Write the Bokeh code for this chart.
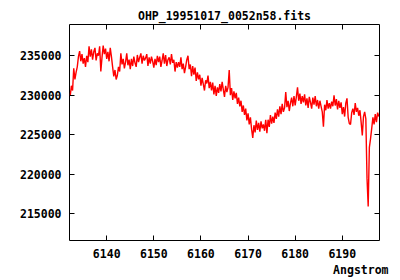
from bokeh.plotting import figure
from bokeh.models import (LinearAxis, FixedTicker, BasicTickFormatter, Title, Range1d)
from bokeh.embed import file_html
from bokeh.resources import INLINE

title_text = "OHP_19951017_0052n58.fits"
x_label = "Angstrom"

wave_start = 6132.25
wave_step = 0.25

flux = [
    229900, 231200, 230600, 233400,
    232000, 232900, 233600, 234900,
    235600, 234300, 235200, 234000,
    234700, 233600, 235000, 234200,
    236200, 234900, 235800, 234500,
    235500, 236000, 234400, 235300,
    235000, 236200, 233000, 234800,
    236300, 235200, 235900, 234600,
    235500, 234300, 236000, 234900,
    233600, 232400, 233200, 232000,
    232500, 233600, 233000, 235300,
    233900, 234600, 233400, 234200,
    235300, 233800, 234500, 233300,
    234600, 233700, 234900, 234100,
    233600, 235100, 234200, 234800,
    235300, 234000, 235000, 234400,
    234700, 235200, 233700, 234800,
    234000, 234900, 234300, 233500,
    234600, 233800, 235000, 234200,
    234900, 233600, 234400, 235300,
    234000, 235100, 233700, 234500,
    234800, 233900, 235200, 234100,
    234500, 233000, 234200, 233500,
    234200, 233600, 234800, 233300,
    234000, 232800, 233600, 234500,
    235000, 233300, 233900, 232400,
    233700, 232600, 233500, 231800,
    232900, 232000, 232600, 231200,
    232200, 231400, 230600, 231900,
    231500, 232500, 230900, 231700,
    230600, 231600, 230100, 231200,
    229900, 231000, 230300, 231400,
    230500, 231700, 230700, 229800,
    231200, 230400, 231000, 233200,
    230000, 230900, 229400, 230500,
    229600, 230300, 228900, 229700,
    228600, 229300, 227900, 228700,
    227500, 228300, 226800, 227700,
    226300, 227200, 225700, 224600,
    226200, 225300, 226800, 225600,
    226500, 225400, 226700, 225800,
    226300, 225500, 226900, 225200,
    226900, 226000, 227500, 226400,
    227300, 226500, 227800, 227000,
    228200, 227300, 228600, 227600,
    228900, 227900, 228400, 230400,
    228500, 229300, 228000, 229000,
    229700, 228600, 229900, 228700,
    229800, 231000, 229300, 230200,
    228900, 229900, 229100, 230100,
    228700, 229600, 228400, 229800,
    229100, 228300, 229700, 228800,
    229900, 228600, 229400, 228300,
    229300, 228600, 227900, 226000,
    228800, 228100, 229400, 228300,
    229000, 228300, 229200, 228600,
    230000, 228700, 229500, 228200,
    229300, 228400, 229100, 227600,
    228500, 227300, 229000, 229600,
    227200, 226400, 226300, 227800,
    228300, 227500, 229000, 227900,
    228400, 227400, 228100, 226600,
    224900, 227300, 227900, 227000,
    219500, 215900, 223400, 224500,
    225800, 227200, 226300, 227600,
    226600, 227800, 227300,
]
wave = [wave_start + wave_step * i for i in range(len(flux))]

x_ticks = [6140, 6150, 6160, 6170, 6180, 6190]
y_ticks = [215000, 220000, 225000, 230000, 235000]
x_lim = (6132.1, 6197.9)
y_lim = (211600, 238960)

FONT = "DejaVu Sans Mono"
FS = "11.5px"

p = figure(width=400, height=280, output_backend="svg", toolbar_location=None,
           x_range=Range1d(*x_lim), y_range=Range1d(*y_lim),
           min_border_left=69, min_border_right=21, min_border_top=24,
           min_border_bottom=40, x_axis_location=None, y_axis_location=None)
p.background_fill_color = "white"
p.border_fill_color = "white"
p.outline_line_color = "black"
p.outline_line_width = 1
p.outline_line_alpha = 1.0
p.xgrid.visible = False
p.ygrid.visible = False

p.line(wave, flux, line_color="#ff0000", line_width=1.4)


def mk_axis(cls_ticks, show_labels):
    ax = LinearAxis(ticker=FixedTicker(ticks=cls_ticks),
                    formatter=BasicTickFormatter(use_scientific=False))
    ax.axis_line_color = None
    ax.major_tick_in = 5
    ax.major_tick_out = 0
    ax.major_tick_line_color = "black"
    ax.major_tick_line_width = 1
    ax.minor_tick_line_color = None
    if show_labels:
        ax.major_label_text_font = FONT
        ax.major_label_text_font_style = "bold"
        ax.major_label_text_font_size = FS
        ax.major_label_text_color = "black"
        ax.major_label_standoff = 8
    else:
        ax.major_label_text_font_size = "0px"
        ax.major_label_text_color = None
        ax.major_label_standoff = 0
    return ax


p.add_layout(mk_axis(y_ticks, True), "left")
p.add_layout(mk_axis(y_ticks, False), "right")
p.add_layout(mk_axis(x_ticks, True), "below")
p.add_layout(mk_axis(x_ticks, False), "above")

t = Title(text=title_text, align="center", text_font=FONT, text_font_style="bold",
          text_font_size=FS, text_color="black", standoff=4)
p.add_layout(t, "above")

xl = Title(text=x_label, align="right", text_font=FONT, text_font_style="bold",
           text_font_size=FS, text_color="black", offset=-9, standoff=0)
p.add_layout(xl, "below")

open("out.html", "w").write(file_html(p, INLINE))
